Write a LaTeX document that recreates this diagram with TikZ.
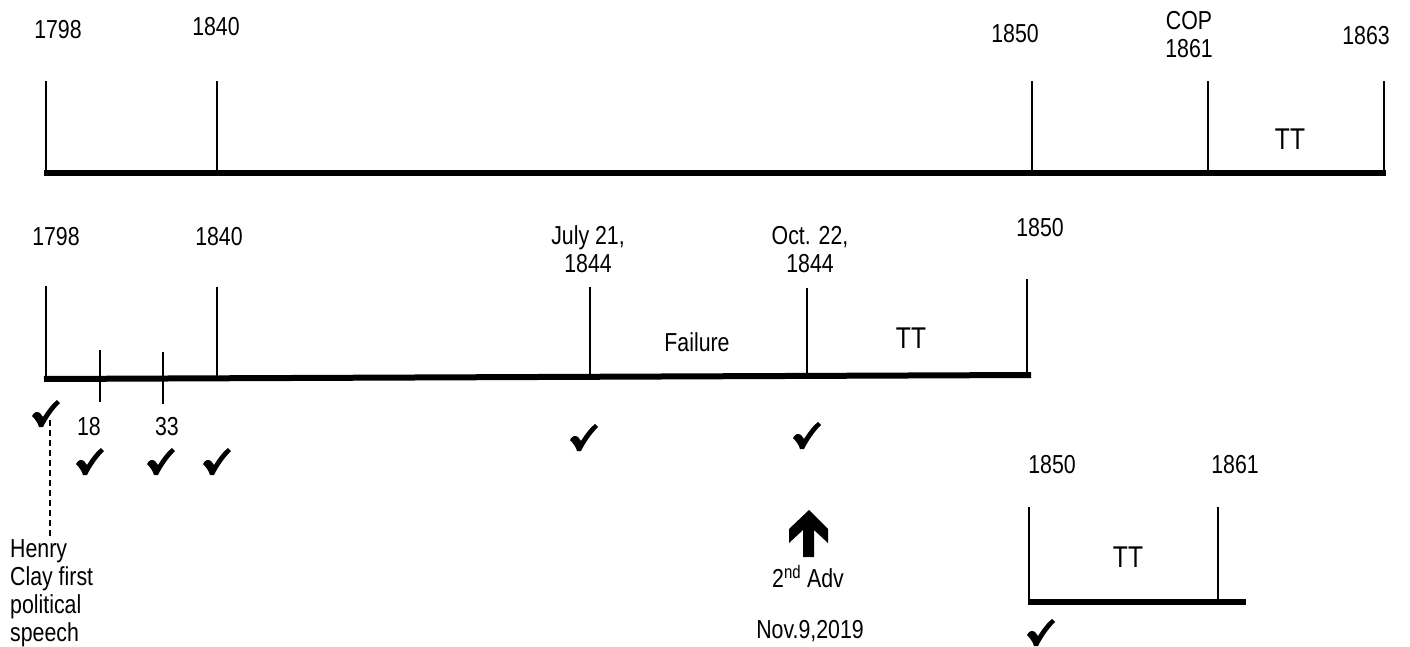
\documentclass[tikz,border=0pt]{standalone}
\usepackage{fontspec}
\setmainfont{Liberation Sans}[FakeStretch=0.82]
\begin{document}
\begin{tikzpicture}[x=1pt,y=-1pt,
  lbl/.style={inner sep=0pt, font=\fontsize{26}{28}\selectfont, align=center},
  big/.style={inner sep=0pt, font=\fontsize{30}{32}\selectfont},
  axis/.style={line width=6pt},
  tick/.style={line width=1.4pt},
  guide/.style={line width=1.3pt, dash pattern=on 6pt off 4pt},
  chk/.pic={\fill[black] (-14,2) .. controls (-12,-2) and (-9,-3) .. (-6,-1) -- (-3,3)
      .. controls (2,-5) and (7,-11) .. (11,-14) -- (14,-11)
      .. controls (7,-4) and (1,5) .. (-3,13) -- (-7,13)
      .. controls (-8,9) and (-11,5) .. (-14,2) -- cycle;}
]
\useasboundingbox (0,0) rectangle (1410,647);

% ---------- top timeline ----------
\coordinate (A0) at (44,173);
\coordinate (A1) at (1386,173);
\draw[axis] (A0) -- (A1);
\foreach \n/\x in {a1/46,a2/217,a3/1032,a4/1208,a5/1384}{
  \coordinate (\n b) at (\x,173);
  \coordinate (\n t) at (\x,81);
  \draw[tick] (\n b) -- (\n t);
}
\node[lbl] (la1) at (58,30) {1798};
\node[lbl] (la2) at (216,27) {1840};
\node[lbl] (la3) at (1015,34) {1850};
\node[lbl] (la4) at (1189,35) {COP\\1861};
\node[lbl] (la5) at (1366,36) {1863};
\node[big] (lat) at (1290,139) {TT};

% ---------- middle timeline ----------
\coordinate (B0) at (44,379);
\coordinate (B1) at (1031,375);
\draw[axis] (B0) -- (B1);
\foreach \n/\x/\yb/\yt in {b1/46/379/286, b2/217/378.3/287, b3/100/402/350, b4/163/404/352,
                          b5/590/376.8/287, b6/807/375.9/288, b7/1027/375/279}{
  \coordinate (\n b) at (\x,\yb);
  \coordinate (\n t) at (\x,\yt);
  \draw[tick] (\n b) -- (\n t);
}
\node[lbl] (lb1) at (56,237) {1798};
\node[lbl] (lb2) at (219,237) {1840};
\node[lbl] (lb5) at (588,249) {July 21,\\1844};
\node[lbl] (lb6) at (810,250) {Oct. 22,\\1844};
\node[lbl] (lb7) at (1040,228) {1850};
\node[lbl] (fail) at (697,342) {Failure};
\node[big] (lbt) at (911,338) {TT};
\node[lbl] (l18) at (89,427) {18};
\node[lbl] (l33) at (167,427) {33};

% checks
\pic (c1) at (46,414) {chk};
\pic (c2) at (90,462) {chk};
\pic (c3) at (161,462) {chk};
\pic (c4) at (217,462) {chk};
\pic (c5) at (584,438) {chk};
\pic (c6) at (807,436) {chk};
\pic (c7) at (1041,633) {chk};

% Henry Clay
\coordinate (h0) at (50,420);
\coordinate (h1) at (50,537);
\draw[guide] (h0) -- (h1);
\node[lbl, align=left, anchor=west] (henry) at (10,593) {Henry\\Clay first\\political\\speech};

% arrow
\fill (809,510) -- (789,529) -- (789,543) -- (803,530) -- (803,557) -- (814,557)
      -- (814,530) -- (828,543) -- (828,529) -- cycle;
\node[lbl] (adv) at (808,577) {2\textsuperscript{nd} Adv};
\node[lbl] (nov) at (810,631) {Nov.9,2019};

% ---------- bottom right timeline ----------
\coordinate (C0) at (1028,602);
\coordinate (C1) at (1246,602);
\draw[axis] (C0) -- (C1);
\coordinate (c1b) at (1029,602); \coordinate (c1t) at (1029,507);
\coordinate (c2b) at (1218,602); \coordinate (c2t) at (1218,507);
\draw[tick] (c1b) -- (c1t);
\draw[tick] (c2b) -- (c2t);
\node[lbl] (lc1) at (1052,465) {1850};
\node[lbl] (lc2) at (1235,465) {1861};
\node[big] (lct) at (1128,557) {TT};
\end{tikzpicture}
\end{document}
